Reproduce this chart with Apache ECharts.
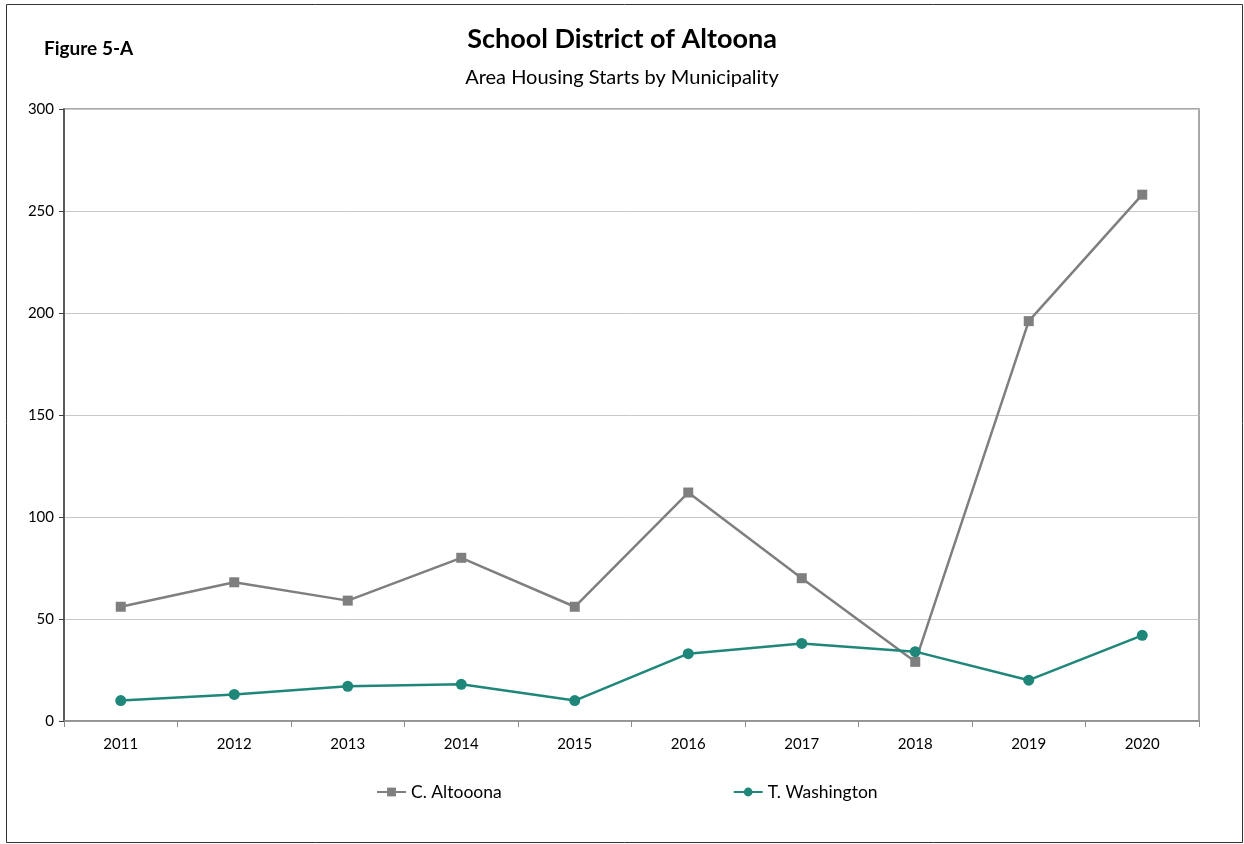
<!DOCTYPE html>
<html>
<head>
<meta charset="utf-8">
<script src="https://cdn.jsdelivr.net/npm/echarts@6/dist/echarts.min.js"></script>
<style>html,body{margin:0;padding:0;background:#fff}#c{width:1244px;height:844px}</style>
</head>
<body>
<div id="c"></div>
<script>
var years = ['2011','2012','2013','2014','2015','2016','2017','2018','2019','2020'];
var altoona = [56, 68, 59, 80, 56, 112, 70, 29, 196, 258];
var washington = [10, 13, 17, 18, 10, 33, 38, 34, 20, 42];
var seriesNames = ['C. Altooona', 'T. Washington'];
var FONT = 'Lato, "Open Sans", sans-serif';
var chart = echarts.init(document.getElementById('c'));
chart.setOption({
  animation: false,
  backgroundColor: '#fff',
  textStyle: {fontFamily: FONT},
  title: [
    {text: 'School District of Altoona', left: 'center', top: 21, textStyle: {fontSize: 27, fontWeight: 'bold', color: '#000', fontFamily: FONT}},
    {text: 'Area Housing Starts by Municipality', left: 'center', top: 63, textStyle: {fontSize: 20, fontWeight: 'normal', color: '#000', fontFamily: FONT}},
    {text: 'Figure 5-A', left: 39, top: 34, textStyle: {fontSize: 19, fontWeight: 'bold', color: '#000', fontFamily: FONT}}
  ],
  graphic: [{type: 'rect', shape: {x: 6.5, y: 4.5, width: 1236, height: 838}, style: {fill: 'none', stroke: '#333', lineWidth: 1}, silent: true}],
  grid: {left: 64, right: 45, top: 109, bottom: 123, show: true, borderColor: '#8c8c8c', borderWidth: 1.5, containLabel: false},
  legend: {
    top: 778, left: 371, itemGap: 231, itemWidth: 29, itemHeight: 11,
    textStyle: {fontSize: 17.5, color: '#000', fontFamily: FONT},
    data: seriesNames
  },
  xAxis: {
    type: 'category', data: years, boundaryGap: true,
    axisLine: {lineStyle: {color: '#8c8c8c', width: 1.5}},
    axisTick: {show: true, length: 6, interval: 0, lineStyle: {color: '#8c8c8c'}},
    axisLabel: {fontSize: 15, color: '#000', margin: 16, fontFamily: FONT},
    splitLine: {show: false}
  },
  yAxis: {
    type: 'value', min: 0, max: 300, interval: 50,
    axisLine: {show: true, lineStyle: {color: '#404040', width: 1.5}},
    axisTick: {show: true, length: 5, lineStyle: {color: '#404040'}},
    axisLabel: {fontSize: 15, color: '#000', margin: 10, fontFamily: FONT},
    splitLine: {show: true, lineStyle: {color: '#c8c8c8', width: 1}}
  },
  series: [
    {name: seriesNames[0], type: 'line', data: altoona, symbol: 'rect', symbolSize: 10,
     itemStyle: {color: '#7f7f7f'}, lineStyle: {color: '#7f7f7f', width: 2.5}},
    {name: seriesNames[1], type: 'line', data: washington, symbol: 'circle', symbolSize: 11,
     itemStyle: {color: '#1f877a'}, lineStyle: {color: '#1f877a', width: 2.5}}
  ]
});
</script>
</body>
</html>
